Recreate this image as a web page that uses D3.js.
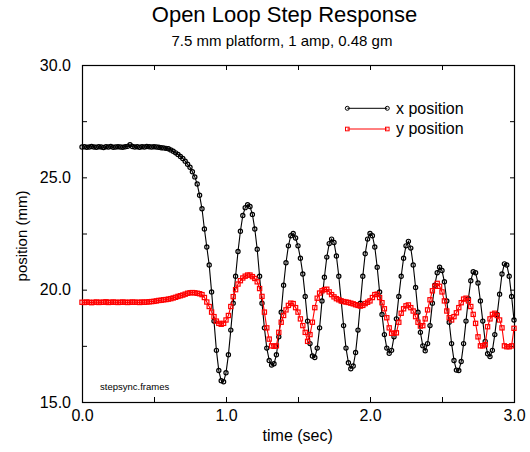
<!DOCTYPE html>
<html>
<head>
<meta charset="utf-8">
<script src="https://cdn.jsdelivr.net/npm/d3@7"></script>
<style>
  body { margin: 0; background: #fff; }
  svg { display: block; font-family: "Liberation Sans", Arial, sans-serif; }
</style>
</head>
<body>
<div id="chart"></div>
<script>
// samples come from video frames, 60 per second
const frameRate = 60;

// x position (mm), one value per frame, t = 0 .. 3.0 s
const xPosition = [
  26.35, 26.36, 26.34, 26.35, 26.37, 26.35, 26.34, 26.36, 26.35, 26.33,
  26.36, 26.35, 26.37, 26.34, 26.35, 26.36, 26.35, 26.34, 26.36, 26.38,
  26.45, 26.37, 26.35, 26.36, 26.34, 26.36, 26.35, 26.37, 26.36, 26.35,
  26.36, 26.35, 26.34, 26.32, 26.31, 26.29, 26.27, 26.22, 26.16, 26.09,
  26.02, 25.93, 25.84, 25.72, 25.58, 25.45, 25.25, 25.02, 24.70, 24.20,
  23.60, 22.70, 21.90, 21.10, 19.90, 18.60, 17.30, 16.40, 15.95, 15.90,
  16.30, 17.10, 18.20, 19.40, 20.60, 21.70, 22.60, 23.30, 23.65, 23.78,
  23.70, 23.35, 22.70, 21.80, 20.60, 19.40, 18.30, 17.40, 16.85, 16.65,
  16.70, 17.10, 17.90, 19.00, 20.20, 21.20, 21.95, 22.40, 22.50, 22.30,
  21.95, 21.40, 20.70, 19.70, 18.60, 17.60, 17.05, 16.98, 17.40, 18.30,
  19.50, 20.55, 21.45, 22.05, 22.25, 22.10, 21.50, 20.60, 19.50, 18.40,
  17.40, 16.75, 16.48, 16.60, 17.20, 18.20, 19.40, 20.60, 21.60, 22.25,
  22.50, 22.40, 21.90, 21.00, 19.90, 18.90, 18.00, 17.40, 17.17, 17.30,
  17.90, 18.70, 19.70, 20.60, 21.40, 21.95, 22.15, 21.85, 21.10, 20.10,
  19.00, 18.10, 17.50, 17.28, 17.60, 18.40, 19.40, 20.20, 20.75, 21.00,
  20.85, 20.35, 19.50, 18.55, 17.60, 16.85, 16.42, 16.40, 16.80, 17.60,
  18.60, 19.60, 20.40, 20.80, 20.75, 20.30, 19.50, 18.60, 17.70, 17.15,
  17.02, 17.30, 18.00, 18.90, 19.80, 20.70, 21.15, 21.10, 20.60, 19.70,
  18.65
];

// y position (mm), same frames
const yPosition = [
  19.44, 19.43, 19.45, 19.44, 19.42, 19.44, 19.45, 19.43, 19.44, 19.44,
  19.46, 19.43, 19.44, 19.45, 19.44, 19.43, 19.44, 19.45, 19.44, 19.43,
  19.44, 19.45, 19.44, 19.44, 19.43, 19.45, 19.44, 19.45, 19.46, 19.47,
  19.48, 19.50, 19.52, 19.53, 19.55, 19.56, 19.58, 19.60, 19.63, 19.66,
  19.70, 19.73, 19.76, 19.80, 19.84, 19.86, 19.87, 19.86, 19.84, 19.82,
  19.78, 19.65, 19.45, 19.25, 19.00, 18.80, 18.60, 18.50, 18.46, 18.50,
  18.65, 18.85, 19.25, 19.69, 20.00, 20.25, 20.40, 20.52, 20.60, 20.65,
  20.65, 20.58, 20.50, 20.35, 20.05, 19.70, 19.00, 18.30, 17.80, 17.50,
  17.48, 17.50, 18.10, 18.55, 18.85, 19.10, 19.30, 19.40, 19.38, 19.20,
  19.00, 18.70, 18.40, 18.10, 17.70, 18.00, 18.55, 19.20, 19.62, 19.85,
  19.95, 20.00, 20.02, 19.90, 19.78, 19.68, 19.60, 19.55, 19.50, 19.47,
  19.45, 19.43, 19.40, 19.37, 19.33, 19.30, 19.27, 19.30, 19.38, 19.44,
  19.50, 19.65, 19.78, 19.80, 19.65, 19.42, 19.15, 18.75, 18.30, 18.06,
  18.06, 18.08, 18.55, 18.95, 19.15, 19.28, 19.32, 19.20, 19.05, 18.80,
  18.55, 18.38, 18.40, 18.70, 19.10, 19.55, 19.95, 20.15, 20.28, 20.15,
  19.90, 19.50, 19.05, 18.75, 18.65, 18.80, 18.97, 19.20, 19.42, 19.58,
  19.62, 19.50, 19.25, 18.90, 18.50, 17.90, 17.50, 17.50, 17.55, 18.35,
  18.70, 18.90, 18.95, 18.85, 18.65, 18.30, 17.50, 17.46, 17.46, 17.50,
  18.28
];

const seriesNames = ["x position", "y position"];
const xTicks = [0, 0.5, 1, 1.5, 2, 2.5, 3];
const xTickLabels = ["0.0", "", "1.0", "", "2.0", "", "3.0"];
const yTicks = [15, 17.5, 20, 22.5, 25, 27.5, 30];
const yTickLabels = ["15.0", "", "20.0", "", "25.0", "", "30.0"];

const w = 530;
const h = 452;
const plotLeft = 82, plotRight = 514, plotTop = 65, plotBottom = 402;

const xScale = d3.scaleLinear().domain([0, 3]).range([plotLeft, plotRight]);
const yScale = d3.scaleLinear().domain([15, 30]).range([plotBottom, plotTop]);

const svg = d3.select("#chart")
  .append("svg")
  .attr("width", w)
  .attr("height", h);

// titles
svg.append("text")
  .attr("x", 284.5).attr("y", 22)
  .attr("text-anchor", "middle")
  .attr("font-size", "22px")
  .text("Open Loop Step Response");
svg.append("text")
  .attr("x", 282).attr("y", 45.5)
  .attr("text-anchor", "middle")
  .attr("font-size", "15px")
  .text("7.5 mm platform, 1 amp, 0.48 gm");

// axes, ticks point into the plot
const styleAxis = g => {
  g.select(".domain").remove();
  g.selectAll(".tick line").attr("stroke", "#000");
  g.selectAll(".tick text").attr("fill", "#000").attr("font-size", "16px")
    .attr("font-family", "Liberation Sans, Arial, sans-serif");
};

svg.append("g")
  .attr("transform", `translate(0,${plotBottom})`)
  .call(d3.axisBottom(xScale).tickValues(xTicks)
    .tickFormat((d, i) => xTickLabels[i]).tickSize(-5).tickPadding(8))
  .call(styleAxis);
svg.append("g")
  .attr("transform", `translate(0,${plotTop})`)
  .call(d3.axisTop(xScale).tickValues(xTicks).tickFormat("").tickSize(-5))
  .call(styleAxis);
svg.append("g")
  .attr("transform", `translate(${plotLeft},0)`)
  .call(d3.axisLeft(yScale).tickValues(yTicks)
    .tickFormat((d, i) => yTickLabels[i]).tickSize(-5).tickPadding(11))
  .call(styleAxis);
svg.append("g")
  .attr("transform", `translate(${plotRight},0)`)
  .call(d3.axisRight(yScale).tickValues(yTicks).tickFormat("").tickSize(-4))
  .call(styleAxis);

// frame
svg.append("rect")
  .attr("x", plotLeft + 0.5).attr("y", plotTop + 0.5)
  .attr("width", plotRight - plotLeft).attr("height", plotBottom - plotTop)
  .attr("fill", "none").attr("stroke", "#000").attr("stroke-width", 1.2);

// axis titles
svg.append("text")
  .attr("x", 297.7).attr("y", 441)
  .attr("text-anchor", "middle")
  .attr("font-size", "16px")
  .text("time (sec)");
svg.append("text")
  .attr("transform", "translate(26.7,236) rotate(-90)")
  .attr("text-anchor", "middle")
  .attr("font-size", "15px")
  .text("position (mm)");

svg.append("text")
  .attr("x", 100).attr("y", 389.5)
  .attr("font-size", "9.5px")
  .text("stepsync.frames");

const line = d3.line()
  .x((d, i) => xScale(i / frameRate))
  .y(d => yScale(d));

// x position: black line, open circles
svg.append("path")
  .datum(xPosition)
  .attr("d", line)
  .attr("fill", "none").attr("stroke", "#000").attr("stroke-width", 1.1);
svg.append("g").selectAll("circle")
  .data(xPosition)
  .enter()
  .append("circle")
  .attr("cx", (d, i) => xScale(i / frameRate))
  .attr("cy", d => yScale(d))
  .attr("r", 2.1)
  .attr("fill", "none").attr("stroke", "#000").attr("stroke-width", 1.2);

// y position: red line, open squares
const sq = 4.2;
svg.append("path")
  .datum(yPosition)
  .attr("d", line)
  .attr("fill", "none").attr("stroke", "#f00").attr("stroke-width", 1.1);
svg.append("g").selectAll("rect")
  .data(yPosition)
  .enter()
  .append("rect")
  .attr("x", (d, i) => xScale(i / frameRate) - sq / 2)
  .attr("y", d => yScale(d) - sq / 2)
  .attr("width", sq).attr("height", sq)
  .attr("fill", "none").attr("stroke", "#f00").attr("stroke-width", 1.2);

// legend
const legend = svg.append("g");
const legendRows = [
  { name: seriesNames[0], color: "#000", y: 108.3, marker: "circle" },
  { name: seriesNames[1], color: "#f00", y: 129, marker: "square" }
];
legendRows.forEach(r => {
  legend.append("line")
    .attr("x1", 347.3).attr("x2", 387.3)
    .attr("y1", r.y).attr("y2", r.y)
    .attr("stroke", r.color).attr("stroke-width", 1);
  [347.3, 387.3].forEach(cx => {
    if (r.marker === "circle") {
      legend.append("circle")
        .attr("cx", cx).attr("cy", r.y).attr("r", 2)
        .attr("fill", "none").attr("stroke", r.color);
    } else {
      legend.append("rect")
        .attr("x", cx - 1.8).attr("y", r.y - 1.8)
        .attr("width", 3.6).attr("height", 3.6)
        .attr("fill", "none").attr("stroke", r.color);
    }
  });
  legend.append("text")
    .attr("x", 396).attr("y", r.y + 5.2)
    .attr("font-size", "16px")
    .text(r.name);
});
</script>
</body>
</html>
